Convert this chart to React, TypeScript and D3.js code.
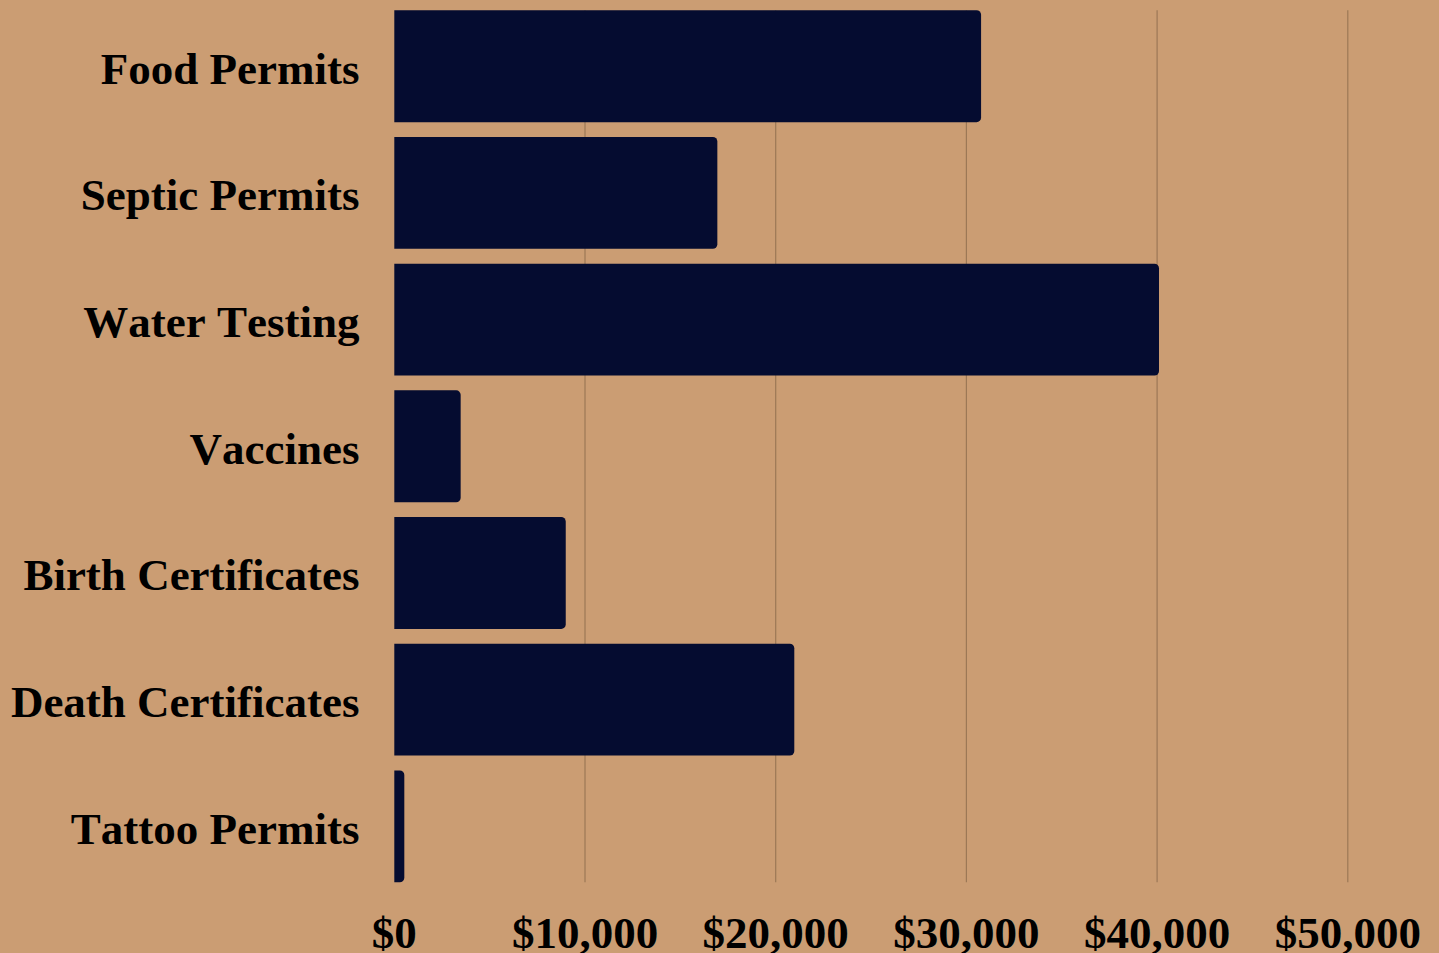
import * as d3 from 'd3'
import { useRef, useEffect } from 'react'

const categories = [
  'Food Permits',
  'Septic Permits',
  'Water Testing',
  'Vaccines',
  'Birth Certificates',
  'Death Certificates',
  'Tattoo Permits',
]
const revenue = [30770, 16940, 40100, 3480, 8990, 20975, 525]
const xTicks = [0, 10000, 20000, 30000, 40000, 50000]

const width = 1439
const height = 953
const left = 394.3
const right = 1347.8
const top = 10.3
const bottom = 882.3
const radius = 4.5

const App = () => {
  const chartSvg = useRef(null)

  useEffect(() => {
    document.body.style.margin = '0'
    drawChart()
  }, [])

  function drawChart() {
    const svg = d3.select(chartSvg.current)
    svg.selectAll('*').remove() // clear

    const xScale = d3.scaleLinear().domain([0, 50000]).range([left, right])
    const yScale = d3
      .scaleBand()
      .domain(categories)
      .range([top, bottom])
      .paddingInner(0.117)
      .paddingOuter(0)

    svg.append('rect').attr('width', width).attr('height', height).attr('fill', '#cb9d73')

    // vertical grid lines
    svg
      .append('g')
      .selectAll('line')
      .data(xTicks.slice(1))
      .enter()
      .append('line')
      .attr('x1', d => xScale(d))
      .attr('x2', d => xScale(d))
      .attr('y1', top)
      .attr('y2', bottom)
      .attr('stroke', '#9c7856')
      .attr('stroke-width', 1.2)

    // bars, rounded on the right side only
    const data = categories.map((name, i) => ({ name, value: revenue[i] }))
    svg
      .append('g')
      .selectAll('path')
      .data(data)
      .enter()
      .append('path')
      .attr('d', d => {
        const x0 = xScale(0)
        const x1 = xScale(d.value)
        const y0 = yScale(d.name)
        const h = yScale.bandwidth()
        const r = Math.min(radius, (x1 - x0) / 2)
        const p = d3.path()
        p.moveTo(x0, y0)
        p.lineTo(x1 - r, y0)
        p.arcTo(x1, y0, x1, y0 + r, r)
        p.lineTo(x1, y0 + h - r)
        p.arcTo(x1, y0 + h, x1 - r, y0 + h, r)
        p.lineTo(x0, y0 + h)
        p.closePath()
        return p.toString()
      })
      .attr('fill', '#050c30')

    // category labels
    svg
      .append('g')
      .selectAll('text')
      .data(categories)
      .enter()
      .append('text')
      .attr('x', 359.5)
      .attr('y', d => yScale(d) + yScale.bandwidth() / 2 + 17.5)
      .attr('text-anchor', 'end')
      .attr('font-family', '"Liberation Serif", "Times New Roman", serif')
      .attr('font-weight', 'bold')
      .attr('font-size', 45)
      .style('font-kerning', 'none')
      .attr('fill', '#000')
      .text(d => d)

    // x tick labels
    svg
      .append('g')
      .selectAll('text')
      .data(xTicks)
      .enter()
      .append('text')
      .attr('x', d => xScale(d))
      .attr('y', 948)
      .attr('text-anchor', 'middle')
      .attr('font-family', '"Liberation Serif", "Times New Roman", serif')
      .attr('font-weight', 'bold')
      .attr('font-size', 45)
      .style('font-kerning', 'none')
      .attr('fill', '#000')
      .text(d => d3.format('$,')(d))
  }

  return (
    <svg
      ref={chartSvg}
      width={width}
      height={height}
      style={{ position: 'absolute', left: 0, top: 0, display: 'block' }}
    ></svg>
  )
}

export default App
